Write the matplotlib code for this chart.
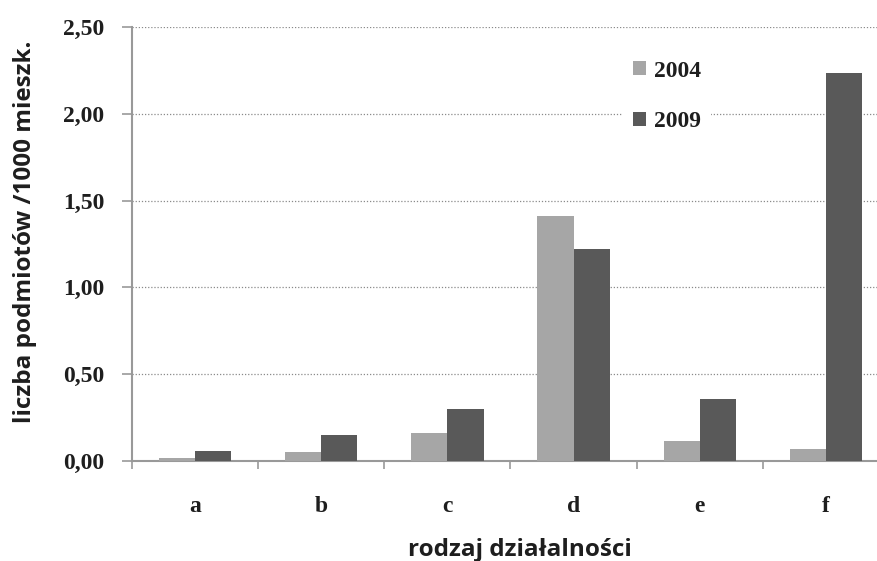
import matplotlib
matplotlib.use("Agg")
import matplotlib.pyplot as plt
import numpy as np

categories = ["a", "b", "c", "d", "e", "f"]
series_labels = ["2004", "2009"]
values_2004 = [0.02, 0.05, 0.16, 1.41, 0.115, 0.07]
values_2009 = [0.06, 0.15, 0.30, 1.22, 0.36, 2.235]
yticks = [0.0, 0.5, 1.0, 1.5, 2.0, 2.5]

SERIF = ["Liberation Serif", "DejaVu Serif"]
SANS = ["Open Sans", "DejaVu Sans"]
TXT = "#1e1e1e"

W, H = 878, 561
fig = plt.figure(figsize=(W / 100, H / 100), dpi=100)
ax = fig.add_axes([132 / W, 1 - 461 / H, 757 / W, 434 / H])

x = np.arange(len(categories))
w = 0.286
ax.bar(x - w / 2, values_2004, width=w, color="#a6a6a6", label=series_labels[0], zorder=3)
ax.bar(x + w / 2, values_2009, width=w, color="#595959", label=series_labels[1], zorder=3)

ax.set_xlim(-0.5, 5.5)
ax.set_ylim(0, 2.5)
ax.set_yticks(yticks)
ax.set_yticklabels([f"{v:.2f}".replace(".", ",") for v in yticks],
                   fontsize=17, fontweight="bold", family=SERIF, color=TXT)
ax.yaxis.grid(True, linestyle=(0, (1, 1.5)), color="#8a8a8a", linewidth=0.9, zorder=0)
ax.set_axisbelow(True)

ax.set_xticks(np.arange(-0.5, 6.0, 1.0))
ax.set_xticklabels([])
ax.set_xticks(x, minor=True)
ax.set_xticklabels(categories, minor=True, fontsize=17, fontweight="bold",
                   family=SERIF, color=TXT)
ax.tick_params(axis="x", which="minor", length=0, pad=25)
ax.tick_params(axis="x", which="major", length=6, color="#999999", width=1.2)
ax.tick_params(axis="y", length=7, color="#999999", width=1.2, pad=13)

for s in ("top", "right"):
    ax.spines[s].set_visible(False)
for s in ("left", "bottom"):
    ax.spines[s].set_color("#999999")
    ax.spines[s].set_linewidth(1.5)

fig.text(25 / W, 1 - 232 / H, "liczba podmiotów /1000 mieszk.", rotation=90,
         ha="center", va="center", fontsize=17.5, fontweight="bold", family=SANS, color=TXT)
fig.text(520 / W, 5 / H, "rodzaj działalności", ha="center", va="baseline",
         fontsize=17.5, fontweight="bold", family=SANS, color=TXT)

leg = ax.legend(loc="upper left", bbox_to_anchor=(622 / W, 1 - 50 / H),
                bbox_transform=fig.transFigure, borderaxespad=0, borderpad=0.45,
                frameon=True, fancybox=False, edgecolor="none", facecolor="white",
                framealpha=1, handlelength=0.55, handleheight=0.55, handletextpad=0.34,
                labelspacing=1.25, prop={"size": 17, "weight": "bold", "family": SERIF})
for t in leg.get_texts():
    t.set_color(TXT)

fig.savefig("out.png", dpi=100)
